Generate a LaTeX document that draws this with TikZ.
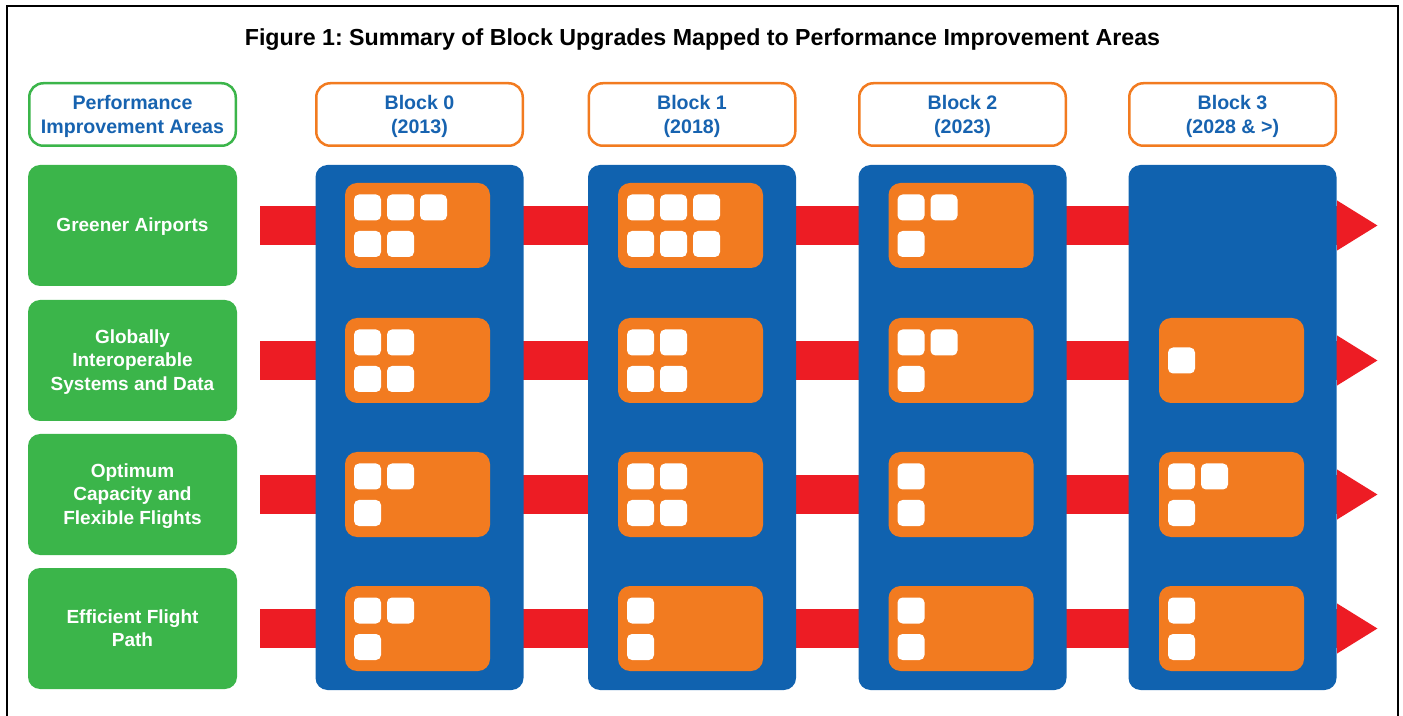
\documentclass[tikz,border=0pt]{standalone}
\usepackage{fontspec}
\setmainfont{Liberation Sans}
\usetikzlibrary{arrows.meta}
\frenchspacing
\definecolor{colblue}{RGB}{16,98,175}
\definecolor{txtblue}{RGB}{23,99,176}
\definecolor{orng}{RGB}{242,123,32}
\definecolor{redbar}{RGB}{237,28,36}
\definecolor{grn}{RGB}{59,181,74}
\newcommand\mylines[2]{\raisebox{#1}[\height][\depth]{\begin{tabular}{@{}c@{}}#2\end{tabular}}}
\tikzset{
  frameline/.style={black,line width=1pt},
  hdrbox/.style={draw=orng,line width=1.25pt,rounded corners=7pt,fill=white,minimum width=103.25pt,minimum height=31.25pt,inner sep=0pt,text=txtblue,font=\bfseries\fontsize{9.8pt}{12pt}\selectfont},
  areabox/.style={fill=grn,rounded corners=6pt,minimum width=104.5pt,minimum height=60.5pt,inner sep=0pt,text=white,font=\bfseries\fontsize{9.5pt}{11.7pt}\selectfont},
  colbox/.style={fill=colblue,rounded corners=6pt,minimum width=104pt,minimum height=262.5pt,inner sep=0pt},
  obox/.style={fill=orng,rounded corners=6pt,minimum width=72.5pt,minimum height=42.5pt,inner sep=0pt},
  sq/.style={fill=white,rounded corners=2.5pt,minimum width=13.5pt,minimum height=13pt,inner sep=0pt},
  flow/.style={draw=redbar,line width=19.5pt,-{Triangle[length=20.5pt,width=23.5pt]}},
}
% cell: name, cx, cy, top count, bottom count
\newcommand\mycell[5]{%
  \node[obox] (#1) at (#2,#3) {};
  \foreach \i in {1,...,#4} {\node[sq] (#1-a\i) at ({#2-50+33*(\i-1)},{#3-18}) {};}
  \foreach \i in {1,...,#5} {\node[sq] (#1-b\i) at ({#2-50+33*(\i-1)},{#3+18.5}) {};}
}
\begin{document}
\begin{tikzpicture}[x=0.5pt,y=-0.5pt]
\useasboundingbox (0,0) rectangle (1403,716);
% frame
\coordinate (fbl) at (7,716);
\coordinate (ftl) at (7,6);
\coordinate (ftr) at (1397.5,6);
\coordinate (fbr) at (1397.5,716);
\draw[frameline] (fbl) -- (ftl) -- (ftr) -- (fbr);
% title
\node[font=\bfseries\fontsize{11.6pt}{14pt}\selectfont] (title) at (702.5,40) {Figure 1: Summary of Block Upgrades Mapped to Performance Improvement Areas};
% headers
\node[hdrbox,draw=grn] (pia) at (132.5,114.5) {\mylines{-1pt}{Performance\\Improvement Areas}};
\node[hdrbox] (h0) at (419.5,114.5) {\mylines{-1pt}{Block 0\\(2013)}};
\node[hdrbox] (h1) at (692,114.5) {\mylines{-1pt}{Block 1\\(2018)}};
\node[hdrbox] (h2) at (962.5,114.5) {\mylines{-1pt}{Block 2\\(2023)}};
\node[hdrbox] (h3) at (1232.5,114.5) {\mylines{-1pt}{Block 3\\(2028 \& >)}};
% area boxes
\node[areabox] (a1) at (132.5,225.5) {\mylines{-0.9pt}{Greener Airports}};
\node[areabox] (a2) at (132.5,360.5) {\mylines{-0.9pt}{Globally\\Interoperable\\Systems and Data}};
\node[areabox] (a3) at (132.5,494.5) {\mylines{-0.9pt}{Optimum\\Capacity and\\Flexible Flights}};
\node[areabox] (a4) at (132.5,628.5) {\mylines{-0.9pt}{Efficient Flight\\Path}};
% red flows
\foreach \r/\y in {1/225.5,2/360.5,3/494.5,4/628.5} {
  \coordinate (fs\r) at (260,\y);
  \coordinate (fe\r) at (1378,\y);
  \draw[flow] (fs\r) -- (fe\r);
}
% columns
\node[colbox] (c0) at (419.5,427.5) {};
\node[colbox] (c1) at (692,427.5) {};
\node[colbox] (c2) at (962.5,427.5) {};
\node[colbox] (c3) at (1232.5,427.5) {};
% cells
\mycell{k01}{417.5}{225.5}{3}{2}
\mycell{k02}{417.5}{360.5}{2}{2}
\mycell{k03}{417.5}{494.5}{2}{1}
\mycell{k04}{417.5}{628.5}{2}{1}
\mycell{k11}{690.5}{225.5}{3}{3}
\mycell{k12}{690.5}{360.5}{2}{2}
\mycell{k13}{690.5}{494.5}{2}{2}
\mycell{k14}{690.5}{628.5}{1}{1}
\mycell{k21}{961}{225.5}{2}{1}
\mycell{k22}{961}{360.5}{2}{1}
\mycell{k23}{961}{494.5}{1}{1}
\mycell{k24}{961}{628.5}{1}{1}
\node[obox] (k32) at (1231.5,360.5) {};
\node[sq] (k32-a1) at (1181.5,360.5) {};
\mycell{k33}{1231.5}{494.5}{2}{1}
\mycell{k34}{1231.5}{628.5}{1}{1}
\end{tikzpicture}
\end{document}
